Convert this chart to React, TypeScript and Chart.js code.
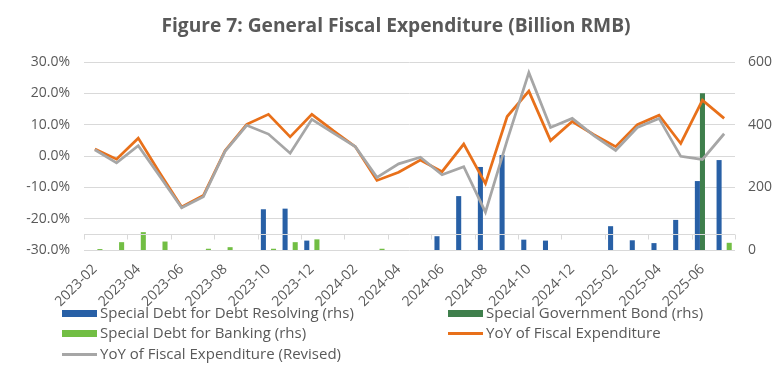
import React, { useEffect, useRef } from "react";
import { Chart, registerables } from "chart.js";
Chart.register(...registerables);

const months = [
  "2023-02", "2023-03", "2023-04", "2023-05", "2023-06", "2023-07", "2023-08", "2023-09", "2023-10", "2023-11", "2023-12",
  "2024-01", "2024-02", "2024-03", "2024-04", "2024-05", "2024-06", "2024-07", "2024-08", "2024-09", "2024-10", "2024-11", "2024-12",
  "2025-01", "2025-02", "2025-03", "2025-04", "2025-05", "2025-06", "2025-07",
];

const yoy = [2.2, -1.0, 5.7, -5.5, -16.3, -12.6, 1.7, 10.1, 13.3, 6.1, 13.3, 8.0, 3.0, -7.8, -5.2, -1.3, -5.0, 3.8, -8.8, 12.6, 20.7, 4.9, 11.0, 6.8, 3.0, 10.0, 13.0, 4.0, 17.8, 12.0];
const yoyRevised = [2.0, -2.2, 3.3, -6.5, -16.5, -13.0, 1.5, 9.8, 7.0, 0.9, 11.7, 7.3, 3.0, -6.8, -2.5, -0.4, -6.0, -3.4, -17.9, 5.0, 26.6, 9.1, 12.0, 6.5, 1.8, 9.1, 12.0, -0.1, -1.1, 7.1];

const debtResolving = [null, null, null, null, null, null, null, null, 130, 132, 30, null, null, null, null, null, 44, 172, 265, 303, 33, 30, null, null, 76, 31, 22, 96, 220, 287];
const govBond = [null, null, null, null, null, null, null, null, null, null, null, null, null, null, null, null, null, null, null, null, null, null, null, null, null, null, null, null, 500, null];
const banking = [3, 25, 57, 27, null, 4, 9, null, 4, 25, 34, null, null, 4, null, null, null, null, null, null, null, null, null, null, null, null, null, null, null, 23];

const leftMin = -30;
const leftMax = 30;
const leftStep = 10;
const rightMin = 0;
const rightMax = 600;
const rightStep = 200;
const axisCross = -25;

const TEXT = "#595959";
const FONT = "'Open Sans', sans-serif";
const C_BLUE = "#2860A6";
const C_DGREEN = "#3F7F4C";
const C_LGREEN = "#72BE44";
const C_ORANGE = "#E8701A";
const C_GRAY = "#A6A6A6";

const axisPlugin = {
  id: "excelAxis",
  afterDatasetsDraw(chart: any) {
    const { ctx, chartArea, scales } = chart;
    const y = Math.round(scales.y.getPixelForValue(axisCross)) + 0.5;
    ctx.save();
    ctx.strokeStyle = "#d9d9d9";
    ctx.lineWidth = 1;
    ctx.beginPath();
    ctx.moveTo(chartArea.left, y);
    ctx.lineTo(chartArea.right, y);
    const n = months.length;
    const w = (chartArea.right - chartArea.left) / n;
    for (let i = 0; i <= n; i += 2) {
      const x = Math.round(chartArea.left + i * w) + 0.5;
      ctx.moveTo(x, y);
      ctx.lineTo(x, y + 5);
    }
    ctx.stroke();
    ctx.restore();
  },
};

export default function App() {
  const ref = useRef<HTMLCanvasElement | null>(null);

  useEffect(() => {
    document.body.style.margin = "0";
    const canvas = ref.current;
    if (!canvas) return;
    const barCommon = { yAxisID: "y1", categoryPercentage: 0.7, barPercentage: 1.0, order: 2 };
    const chart = new Chart(canvas, {
      type: "bar",
      data: {
        labels: months,
        datasets: [
          { ...barCommon, type: "bar", label: "Special Debt for Debt Resolving (rhs)", data: debtResolving, backgroundColor: C_BLUE },
          { ...barCommon, type: "bar", label: "Special Government Bond (rhs)", data: govBond, backgroundColor: C_DGREEN },
          { ...barCommon, type: "bar", label: "Special Debt for Banking (rhs)", data: banking, backgroundColor: C_LGREEN },
          { type: "line", label: "YoY of Fiscal Expenditure", data: yoy, yAxisID: "y", borderColor: C_ORANGE, borderWidth: 2.75, pointRadius: 0, tension: 0, order: 1 },
          { type: "line", label: "YoY of Fiscal Expenditure (Revised)", data: yoyRevised, yAxisID: "y", borderColor: C_GRAY, borderWidth: 2.75, pointRadius: 0, tension: 0, order: 0 },
        ] as any,
      },
      options: {
        animation: false,
        responsive: false,
        devicePixelRatio: 1,
        layout: { padding: { top: 62, bottom: 0, left: 0, right: 0 } },
        plugins: { legend: { display: false }, tooltip: { enabled: false }, title: { display: false } },
        scales: {
          x: {
            offset: true,
            grid: { display: false },
            border: { display: false },
            ticks: {
              autoSkip: false,
              minRotation: 45,
              maxRotation: 45,
              padding: 3,
              color: TEXT,
              font: { family: FONT, size: 14 },
              callback: (_v: any, i: number) => (i % 2 === 0 ? months[i] : ""),
            },
            afterFit: (s: any) => { s.height = 124; },
          },
          y: {
            position: "left",
            min: leftMin,
            max: leftMax,
            grid: { color: "#d9d9d9", drawTicks: false },
            border: { display: false },
            ticks: {
              stepSize: leftStep,
              padding: 14,
              color: TEXT,
              font: { family: FONT, size: 14 },
              callback: (v: any) => Number(v).toFixed(1) + "%",
            },
            afterFit: (s: any) => { s.width = 84; },
          },
          y1: {
            position: "right",
            min: rightMin,
            max: rightMax,
            grid: { display: false, drawTicks: false },
            border: { display: false },
            ticks: { stepSize: rightStep, padding: 13, color: TEXT, font: { family: FONT, size: 14 } },
            afterFit: (s: any) => { s.width = 49; },
          },
        },
      } as any,
      plugins: [axisPlugin],
    });
    return () => chart.destroy();
  }, []);

  const legendText: React.CSSProperties = { position: "absolute", fontFamily: FONT, fontSize: 15, color: TEXT, whiteSpace: "nowrap", lineHeight: "20px" };
  const box = (x: number, y: number, color: string): React.CSSProperties => ({ position: "absolute", left: x, top: y - 3.5, width: 35, height: 7, background: color });
  const line = (x: number, y: number, color: string): React.CSSProperties => ({ position: "absolute", left: x, top: y - 1.5, width: 35, height: 3, background: color });

  return (
    <div style={{ position: "relative", width: 784, height: 374, background: "#fff", overflow: "hidden" }}>
      <canvas ref={ref} width={784} height={374} style={{ position: "absolute", left: 0, top: 0, width: 784, height: 374 }} />
      <div style={{ position: "absolute", left: 0, width: 792, top: 12, textAlign: "center", fontFamily: FONT, fontWeight: 700, fontSize: 19.2, color: TEXT, lineHeight: "26px" }}>
        Figure 7: General Fiscal Expenditure (Billion RMB)
      </div>
      <div style={box(62, 313, C_BLUE)} />
      <div style={{ ...legendText, left: 100, top: 302 }}>Special Debt for Debt Resolving (rhs)</div>
      <div style={box(448, 313, C_DGREEN)} />
      <div style={{ ...legendText, left: 486, top: 302 }}>Special Government Bond (rhs)</div>
      <div style={box(62, 333, C_LGREEN)} />
      <div style={{ ...legendText, left: 100, top: 322 }}>Special Debt for Banking (rhs)</div>
      <div style={line(448, 333, C_ORANGE)} />
      <div style={{ ...legendText, left: 486, top: 322 }}>YoY of Fiscal Expenditure</div>
      <div style={line(62, 354, C_GRAY)} />
      <div style={{ ...legendText, left: 100, top: 343 }}>YoY of Fiscal Expenditure (Revised)</div>
    </div>
  );
}
